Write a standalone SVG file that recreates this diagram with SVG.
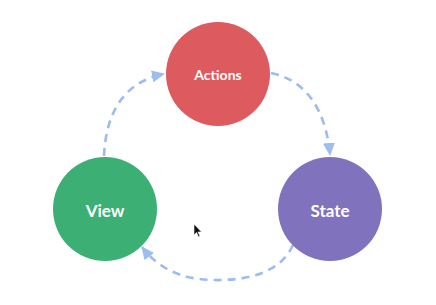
<svg xmlns="http://www.w3.org/2000/svg" width="436" height="305" viewBox="0 0 436 305">
<style>
.lbl{font-family:"Lato","Open Sans","Liberation Sans",sans-serif;font-weight:bold;fill:#ffffff;text-anchor:middle;dominant-baseline:central}
.conn{fill:none;stroke:#9dbcf0;stroke-width:2.6;stroke-dasharray:8 6}
</style>
<defs>
<marker id="ah" markerUnits="userSpaceOnUse" markerWidth="14" markerHeight="14" viewBox="0 0 14 14" refX="12" refY="7" orient="auto">
<path d="M0,1 L13,7 L0,13 Z" fill="#9dbcf0"/>
</marker>
</defs>
<rect width="436" height="305" fill="#ffffff"/>
<g id="connectors">
<path class="conn" d="M104,156 C106,112 124,82 164,74" marker-end="url(#ah)"/>
<path class="conn" d="M271,73 C306,80 326,110 330,155" marker-end="url(#ah)"/>
<path class="conn" d="M293,245 C280,274 245,281 212,280 C180,279 158,268 142,247" marker-end="url(#ah)"/>
</g>
<g id="actions">
<circle cx="218" cy="74" r="52" fill="#dd5a5f"/>
<text class="lbl" x="218" y="74" font-size="14">Actions</text>
</g>
<g id="view">
<circle cx="105" cy="209" r="52" fill="#3caf75"/>
<text class="lbl" x="105" y="210" font-size="17">View</text>
</g>
<g id="state">
<circle cx="330" cy="209" r="52" fill="#8172bd"/>
<text class="lbl" x="330" y="210" font-size="17">State</text>
</g>
<path d="M194,224 L194,235 L196.5,232.5 L198.5,237 L200,236.3 L198,232 L201.5,232 Z" fill="#111111" stroke="#ffffff" stroke-width="0.6"/>
</svg>
